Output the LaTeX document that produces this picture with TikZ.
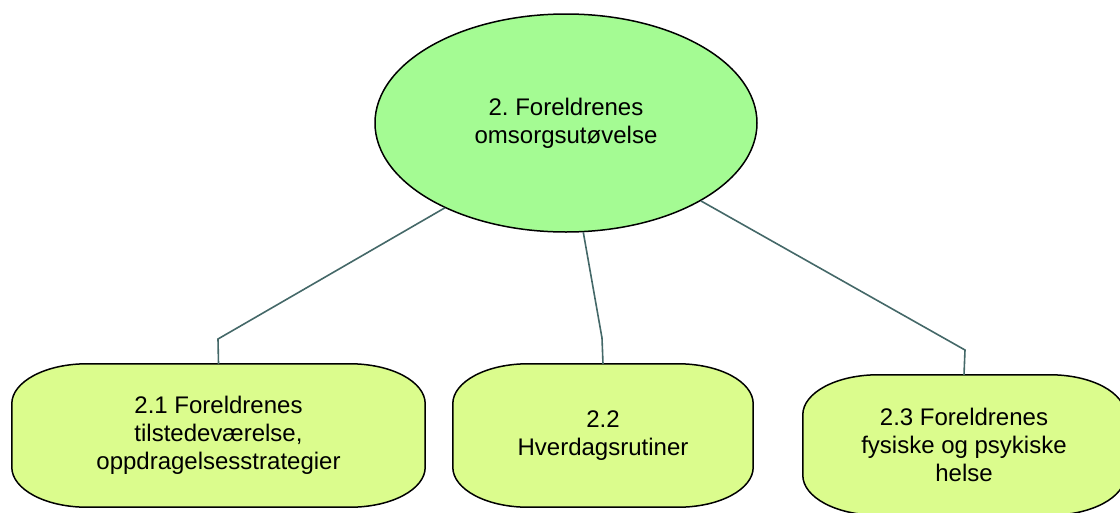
\documentclass[tikz,border=0pt]{standalone}
\usepackage{fontspec}
\setmainfont{Liberation Sans}
\usetikzlibrary{shapes.geometric,backgrounds}

\definecolor{topfill}{RGB}{164,251,147}
\definecolor{boxfill}{RGB}{219,252,141}
\definecolor{linkcol}{RGB}{68,104,104}

\tikzset{
    label/.style={align=center, font=\fontsize{24}{28}\selectfont, text=black},
    topnode/.style={label, ellipse, draw=black, line width=1.5pt, fill=topfill,
        minimum width=382pt, minimum height=218pt, inner sep=0pt},
    subnode/.style={label, inner sep=0pt},
    link/.style={draw=linkcol, line width=1.6pt}
}

\begin{document}
\begin{tikzpicture}[x=1pt, y=-1pt]
        \useasboundingbox (0,0) rectangle (1120,512);

        % Top ellipse
        \node[topnode] (omsorg) at (566,123) {2.\ Foreldrenes\\omsorgsutøvelse};

        % Lower boxes
        \node[subnode, minimum width=413pt, minimum height=143pt] (tilstede) at (218.5,435.5)
            {2.1 Foreldrenes\\tilstedeværelse,\\oppdragelsesstrategier};
        \node[subnode, minimum width=300pt, minimum height=143pt] (rutiner) at (603,435.5)
            {2.2\\Hverdagsrutiner};
        \node[subnode, minimum width=322pt, minimum height=140pt] (helse) at (964,445)
            {2.3 Foreldrenes\\fysiske og psykiske\\helse};

        % Box outlines with soft corners
        \begin{scope}[on background layer]
        \foreach \n in {tilstede,rutiner,helse}{
            \draw[black, line width=1.5pt, fill=boxfill]
                ([xshift=75pt]\n.north west) -- ([xshift=-75pt]\n.north east)
                arc[start angle=90, end angle=0, x radius=75pt, y radius=40pt]
                -- ([yshift=40pt]\n.south east)
                arc[start angle=0, end angle=-90, x radius=75pt, y radius=40pt]
                -- ([xshift=75pt]\n.south west)
                arc[start angle=-90, end angle=-180, x radius=75pt, y radius=40pt]
                -- ([yshift=-40pt]\n.north west)
                arc[start angle=180, end angle=90, x radius=75pt, y radius=40pt]
                -- cycle;
        }
        \end{scope}

        % Connectors
        \coordinate (b1) at (218,339);
        \coordinate (b2) at (602,338);
        \coordinate (b3) at (965,350);

        \draw[link] (omsorg.215) -- (b1) -- (tilstede.north);
        \draw[link] (omsorg.279) -- (b2) -- (rutiner.north);
        \draw[link] (omsorg.330) -- (b3) -- (helse.north);

    \end{tikzpicture}
\end{document}
